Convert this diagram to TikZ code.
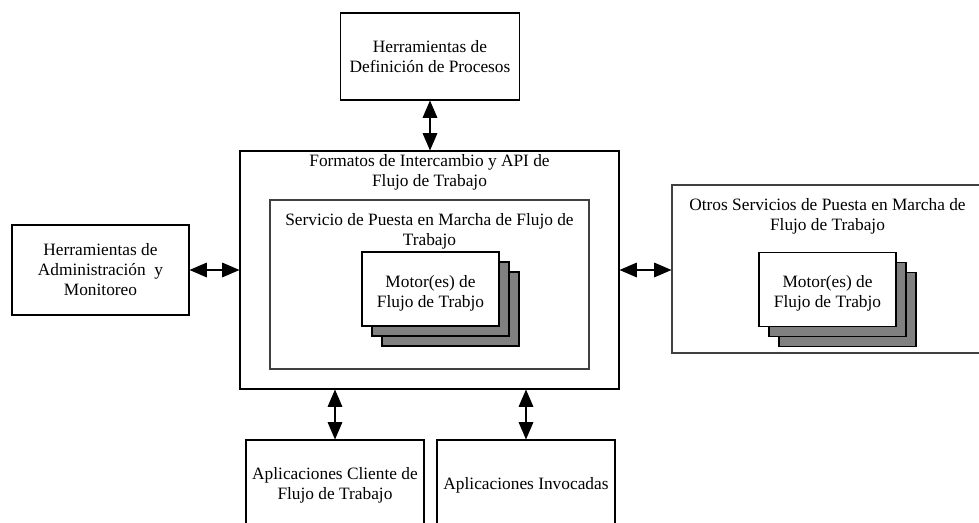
\documentclass[tikz,border=0pt]{standalone}
\usepackage{fontspec}
\setmainfont{Liberation Serif}
\usetikzlibrary{arrows.meta,shadows}

\begin{document}
\begin{tikzpicture}[x=0.75pt, y=-0.75pt, >={Triangle[length=13pt,width=11pt]},
    every node/.style={font=\fontsize{13}{15}\selectfont, align=center},
    box/.style={draw, line width=0.8pt, rectangle, inner sep=0pt},
    engine/.style={box, fill=white, minimum width=102.75pt, minimum height=55.5pt,
        double copy shadow={shadow xshift=7.5pt, shadow yshift=-7.5pt, fill=gray, draw=black, line width=0.8pt}},
    link/.style={<->, line width=0.8pt}]
    \useasboundingbox (0,0) rectangle (979,523);
    \clip (0,0) rectangle (979,523);

    \node[box, minimum width=134pt, minimum height=65.25pt] (defs) at (430,56.5)
        {Herramientas de\\Definición de Procesos};

    \node[box, minimum width=284.25pt, minimum height=178.5pt] (api) at (429.5,270) {};
    \node[anchor=north, inner sep=3pt] (apititle) at (api.north)
        {Formatos de Intercambio y API de\\Flujo de Trabajo};

    \node[box, draw=black!75, minimum width=239.25pt, minimum height=126.75pt] (serv) at (429.5,284.5) {};
    \node[anchor=north, yshift=-7pt] (servtitle) at (serv.north)
        {Servicio de Puesta en Marcha de Flujo de\\Trabajo};
    \node[engine] (motor) at (430.5,289) {};
    \node[yshift=-3pt] (motortext) at (motor) {Motor(es) de\\Flujo de Trabjo};

    \node[box, minimum width=132.75pt, minimum height=67.5pt] (admin) at (100.5,270)
        {Herramientas de\\Administración~ y\\Monitoreo};

    \node[box, draw=black!75, minimum width=233.25pt, minimum height=126pt] (otros) at (827.5,269) {};
    \node[anchor=north, yshift=-7pt] (otrostitle) at (otros.north)
        {Otros Servicios de Puesta en Marcha de\\Flujo de Trabajo};
    \node[engine] (motorB) at (827.5,289.5) {};
    \node[yshift=-3pt] (motorBtext) at (motorB) {Motor(es) de\\Flujo de Trabjo};

    \node[box, minimum width=133.5pt, minimum height=67.5pt] (cliente) at (335,485)
        {Aplicaciones Cliente de\\Flujo de Trabajo};
    \node[box, minimum width=133.5pt, minimum height=67.5pt] (invoc) at (526,485)
        {Aplicaciones Invocadas};

    \draw[link] (defs.south) -- (defs.south |- api.north);
    \draw[link] (admin) -- (api);
    \draw[link] (api.east) -- (api.east -| otros.west);
    \draw[link] (cliente.north |- api.south) -- (cliente);
    \draw[link] (invoc.north |- api.south) -- (invoc);
\end{tikzpicture}
\end{document}
